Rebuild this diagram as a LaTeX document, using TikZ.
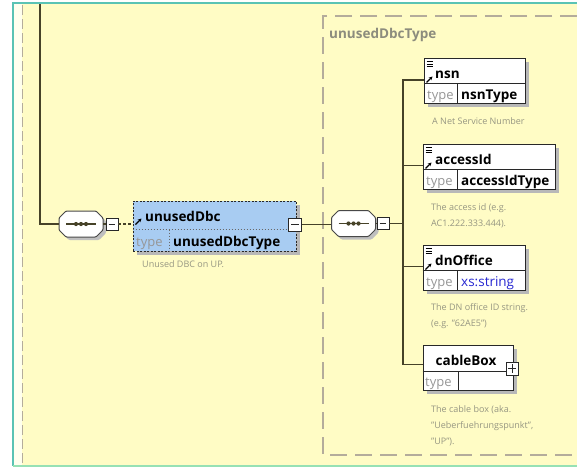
\documentclass[tikz,border=0pt]{standalone}
\usepackage{fontspec}
\setmainfont{Open Sans}
\usetikzlibrary{shadows,arrows.meta,calc}
\definecolor{bgyellow}{RGB}{255,252,197}
\definecolor{stripc}{RGB}{255,255,238}
\definecolor{linec}{RGB}{70,66,40}
\definecolor{boxc}{RGB}{40,40,40}
\definecolor{blueel}{RGB}{168,204,242}
\definecolor{typec}{RGB}{150,150,150}
\definecolor{capc}{RGB}{150,150,130}
\definecolor{dashc}{RGB}{180,172,155}
\definecolor{tealc}{RGB}{90,195,180}
\definecolor{greenc}{RGB}{150,225,180}
\definecolor{xsblue}{RGB}{40,40,210}
\definecolor{labelc}{RGB}{140,140,125}
\newcommand\octpath[3]{($(#1.center)+(-15+#2,-13+#3)$) -- ($(#1.center)+(15+#2,-13+#3)$) -- ($(#1.center)+(22+#2,-6+#3)$) -- ($(#1.center)+(22+#2,6+#3)$) -- ($(#1.center)+(15+#2,13+#3)$) -- ($(#1.center)+(-15+#2,13+#3)$) -- ($(#1.center)+(-22+#2,6+#3)$) -- ($(#1.center)+(-22+#2,-6+#3)$) -- cycle}
\tikzset{
  conn/.style={draw=linec, line width=1.1pt},
  elbox/.style={rectangle, draw=boxc, line width=1pt, fill=white, inner sep=0pt,
    general shadow={shadow xshift=3.5pt, shadow yshift=-3.5pt, fill=black!28}},
  refbox/.style={elbox, fill=blueel, dash pattern=on 2pt off 1.5pt},
  seqanchor/.style={rectangle, minimum width=44pt, minimum height=26pt, inner sep=0pt},
  seqdraw/.style={draw=boxc!85, line width=1pt, fill=white, rounded corners=1pt},
  seqshadow/.style={fill=black!25, rounded corners=1pt},
  pmbox/.style={rectangle, draw=boxc, fill=white, minimum width=12pt, minimum height=12pt, inner sep=0pt, line width=0.8pt},
  nametxt/.style={font=\fontsize{13.5}{16}\selectfont\bfseries, anchor=base west, inner sep=0pt},
  typetxt/.style={font=\fontsize{13}{16}\selectfont, text=typec, anchor=base west, inner sep=0pt},
  valtxt/.style={font=\fontsize{13.5}{16}\selectfont\bfseries, anchor=base west, inner sep=0pt},
  captxt/.style={font=\fontsize{9}{16}\selectfont, text=capc, anchor=base west, inner sep=0pt},
  divline/.style={draw=boxc, line width=0.8pt},
  icon/.style={draw=black, line width=0.7pt},
  refarrow/.style={draw=black, line width=1.1pt, -{Stealth[length=3.5pt,width=3.5pt]}},
}
\begin{document}
\begin{tikzpicture}[x=1pt,y=-1pt]
\useasboundingbox (0,0) rectangle (577,467);
% background
\fill[white] (0,0) rectangle (577,467);
\fill[stripc] (14,4) rectangle (22,465);
\fill[bgyellow] (22,4) rectangle (577,465);
\draw[tealc, line width=1.3pt] (577,3) -- (13,3) -- (13,466);
\draw[greenc, line width=1.3pt] (13,466) -- (577,466);
\draw[dashc, line width=1pt, dash pattern=on 10pt off 4pt] (22,5) -- (22,465);
% type container
\draw[dashc, line width=1.2pt, dash pattern=on 17pt off 8pt] (577,16) -- (323,16) -- (323,455) -- (577,455);
\node[font=\fontsize{13.5}{16}\selectfont\bfseries, text=labelc, anchor=base west, inner sep=0pt] (tlabel) at (329,38) {unusedDbcType};

% left compositor
\coordinate (top) at (40,4);
\node[seqanchor] (seq1) at (81,224) {};
\fill[seqshadow] \octpath{seq1}{3}{3};
\draw[seqdraw] \octpath{seq1}{0}{0};
\draw[linec, line width=1.4pt] ([xshift=-15pt]seq1.center) -- ([xshift=15pt]seq1.center);
\foreach \dx in {-5,0,5} \fill[linec] ([xshift=\dx pt]seq1.center) circle (2.1pt);
\node[pmbox] (m1) at (112,224) {};
\draw[boxc, line width=0.9pt] ([xshift=3pt]m1.west) -- ([xshift=-3pt]m1.east);
\draw[conn] (top) |- (seq1.west);
\draw[conn] (seq1.east) -- (m1.west);

% unusedDbc element
\node[refbox, minimum width=163pt, minimum height=50pt] (ud) at (214.5,226) {};
\draw[boxc!70, line width=0.6pt, dash pattern=on 1.5pt off 1.5pt] ([yshift=-29pt]ud.north west) -- ([yshift=-29pt]ud.north east);
\draw[boxc!70, line width=0.6pt, dash pattern=on 1.5pt off 1.5pt] ([xshift=37pt,yshift=-29pt]ud.north west) -- ([xshift=37pt]ud.south west);
\draw[refarrow] ([xshift=3pt,yshift=-24pt]ud.north west) -- ([xshift=9pt,yshift=-18pt]ud.north west);
\node[nametxt] (udname) at (145,221) {unusedDbc};
\node[typetxt] (udtype) at (136,246) {type};
\node[valtxt] (udval) at (173,246) {unusedDbcType};
\node[captxt] (udcap) at (142,267) {Unused DBC on UP.};
\node[pmbox, minimum width=13pt, minimum height=13pt] (m2) at (295,224.5) {};
\draw[boxc, line width=0.9pt] ([xshift=3pt]m2.west) -- ([xshift=-3pt]m2.east);
\draw[conn, dash pattern=on 3pt off 2pt] (m1.east) -- (m1.east -| ud.west);

% right compositor
\node[seqanchor] (seq2) at (353.5,223.5) {};
\fill[seqshadow] \octpath{seq2}{3}{3};
\draw[seqdraw] \octpath{seq2}{0}{0};
\draw[linec, line width=1.4pt] ([xshift=-15pt]seq2.center) -- ([xshift=15pt]seq2.center);
\foreach \dx in {-5,0,5} \fill[linec] ([xshift=\dx pt]seq2.center) circle (2.1pt);
\node[pmbox] (m3) at (383,223.5) {};
\draw[boxc, line width=0.9pt] ([xshift=3pt]m3.west) -- ([xshift=-3pt]m3.east);
\draw[conn] (m2.east) -- (m2.east -| seq2.west);
\draw[conn] (seq2.east) -- (m3.west);
\coordinate (bus) at (403,223.5);
\draw[conn] (m3.east) -- (bus);

% nsn
\node[elbox, minimum width=101pt, minimum height=45pt] (nsn) at (474.5,80.5) {};
\draw[divline] ([yshift=-26pt]nsn.north west) -- ([yshift=-26pt]nsn.north east);
\draw[divline] ([xshift=34pt,yshift=-26pt]nsn.north west) -- ([xshift=34pt]nsn.south west);
\foreach \dy in {4,6.5,9} \draw[icon] ([xshift=3pt,yshift=-\dy pt]nsn.north west) -- ([xshift=9pt,yshift=-\dy pt]nsn.north west);
\draw[refarrow] ([xshift=3pt,yshift=-25pt]nsn.north west) -- ([xshift=9pt,yshift=-19pt]nsn.north west);
\node[nametxt] (nsnname) at (435,78) {nsn};
\node[typetxt] (nsntype) at (427,99) {type};
\node[valtxt] (nsnval) at (461,99) {nsnType};
\node[captxt] (nsncap) at (432,124) {A Net Service Number};
\draw[conn] (bus) |- ([yshift=-22.5pt]nsn.north west);

% accessId
\node[elbox, minimum width=132pt, minimum height=45pt] (acc) at (489,166.5) {};
\draw[divline] ([yshift=-26pt]acc.north west) -- ([yshift=-26pt]acc.north east);
\draw[divline] ([xshift=35pt,yshift=-26pt]acc.north west) -- ([xshift=35pt]acc.south west);
\foreach \dy in {4,6.5,9} \draw[icon] ([xshift=3pt,yshift=-\dy pt]acc.north west) -- ([xshift=9pt,yshift=-\dy pt]acc.north west);
\draw[refarrow] ([xshift=3pt,yshift=-25pt]acc.north west) -- ([xshift=9pt,yshift=-19pt]acc.north west);
\node[nametxt] (accname) at (435,164) {accessId};
\node[typetxt] (acctype) at (426,185) {type};
\node[valtxt] (accval) at (461,185) {accessIdType};
\node[captxt] (acccap1) at (431,210) {The access id (e.g.};
\node[captxt] (acccap2) at (431,226) {AC1.222.333.444).};
\draw[conn] (bus) |- ([yshift=-22pt]acc.north west);

% dnOffice
\node[elbox, minimum width=102pt, minimum height=45pt] (dno) at (474,267.5) {};
\draw[divline] ([yshift=-26pt]dno.north west) -- ([yshift=-26pt]dno.north east);
\draw[divline] ([xshift=35pt,yshift=-26pt]dno.north west) -- ([xshift=35pt]dno.south west);
\foreach \dy in {4,6.5,9} \draw[icon] ([xshift=3pt,yshift=-\dy pt]dno.north west) -- ([xshift=9pt,yshift=-\dy pt]dno.north west);
\draw[refarrow] ([xshift=3pt,yshift=-25pt]dno.north west) -- ([xshift=9pt,yshift=-19pt]dno.north west);
\node[nametxt] (dnoname) at (435,265) {dnOffice};
\node[typetxt] (dnotype) at (426,286) {type};
\node[font=\fontsize{13.5}{16}\selectfont, text=xsblue, anchor=base west, inner sep=0pt] (dnoval) at (461,286) {xs:string};
\node[captxt] (dnocap1) at (431,310) {The DN office ID string.};
\node[captxt] (dnocap2) at (431,326) {(e.g. "62AE5")};
\draw[conn] (bus) |- ([yshift=-22pt]dno.north west);

% cableBox
\node[elbox, minimum width=90pt, minimum height=45pt] (cab) at (468,367.5) {};
\draw[divline] ([yshift=-27pt]cab.north west) -- ([yshift=-27pt]cab.north east);
\draw[divline] ([xshift=36pt,yshift=-27pt]cab.north west) -- ([xshift=36pt]cab.south west);
\node[font=\fontsize{13.5}{16}\selectfont\bfseries, anchor=base, inner sep=0pt] (cabname) at (466,365) {cableBox};
\node[typetxt] (cabtype) at (425,386) {type};
\node[pmbox, minimum width=12pt, minimum height=13pt] (pcab) at (512,368.5) {};
\draw[boxc, line width=0.9pt] ([xshift=2.5pt]pcab.west) -- ([xshift=-2.5pt]pcab.east);
\draw[boxc, line width=0.9pt] ([yshift=-2.5pt]pcab.north) -- ([yshift=2.5pt]pcab.south);
\node[captxt] (cabcap1) at (431,412) {The cable box (aka.};
\node[captxt] (cabcap2) at (431,428) {"Ueberfuehrungspunkt",};
\node[captxt] (cabcap3) at (431,444) {"UP").};
\draw[conn] (bus) |- ([yshift=-20pt]cab.north west);
\end{tikzpicture}
\end{document}
